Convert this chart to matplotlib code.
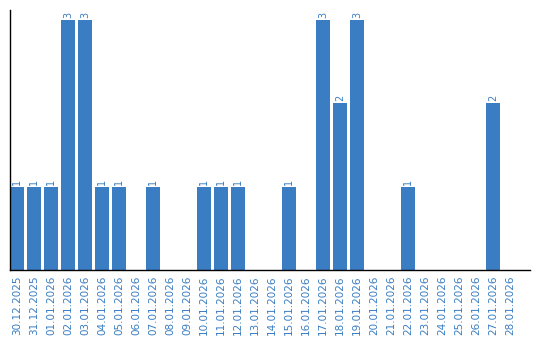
import matplotlib
matplotlib.use("Agg")
import matplotlib.pyplot as plt

dates = ["30.12.2025", "31.12.2025", "01.01.2026", "02.01.2026", "03.01.2026",
         "04.01.2026", "05.01.2026", "06.01.2026", "07.01.2026", "08.01.2026",
         "09.01.2026", "10.01.2026", "11.01.2026", "12.01.2026", "13.01.2026",
         "14.01.2026", "15.01.2026", "16.01.2026", "17.01.2026", "18.01.2026",
         "19.01.2026", "20.01.2026", "21.01.2026", "22.01.2026", "23.01.2026",
         "24.01.2026", "25.01.2026", "26.01.2026", "27.01.2026", "28.01.2026"]
counts = [1, 1, 1, 3, 3, 1, 1, 0, 1, 0, 0, 1, 1, 1, 0, 0, 1, 0, 3, 2, 3, 0, 0, 1, 0, 0, 0, 0, 2, 0]

color = "#3a7dc2"
W, H = 540, 340
fig = plt.figure(figsize=(W / 100, H / 100), dpi=100)
ax = fig.add_axes([10 / W, (H - 270) / H, 520 / W, 260 / H])

x = list(range(len(dates)))
ax.bar(x, counts, width=14 / 17, color=color)
for xi, v in zip(x, counts):
    if v > 0:
        ax.text(xi, v + 0.025, str(v), rotation=90, ha="center", va="bottom",
                fontsize=7, color=color)

ax.set_xlim(-7 / 17, 30.18)
ax.set_ylim(0, 3.12)
ax.set_xticks(x)
ax.set_xticklabels(dates, rotation=90, fontsize=7.5, color=color)
ax.tick_params(axis="x", length=0, pad=4)
ax.set_yticks([])
for s in ["top", "right"]:
    ax.spines[s].set_visible(False)
for s in ["left", "bottom"]:
    ax.spines[s].set_color("black")
    ax.spines[s].set_linewidth(1.0)

fig.savefig("out.png", dpi=100)
